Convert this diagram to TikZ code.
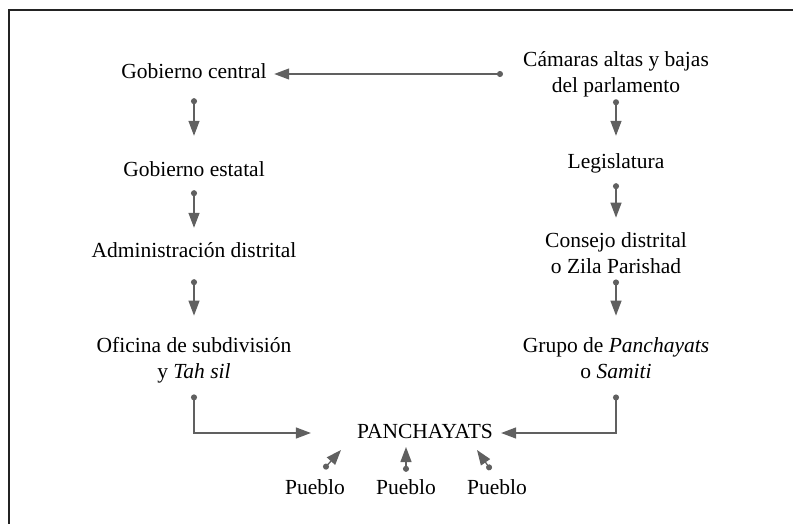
\documentclass[tikz,border=0pt]{standalone}
\usepackage{fontspec}
\setmainfont{Liberation Serif}
\usetikzlibrary{arrows.meta}
\definecolor{linkgray}{RGB}{96,96,96}
\definecolor{framegray}{RGB}{35,35,35}

\begin{document}
\begin{tikzpicture}[x=1pt,y=-1pt,node distance=91pt,
  level/.style={inner sep=0pt,align=center,font=\fontsize{21.5}{26}\selectfont},
  single/.style={level,text height=15pt,text depth=5pt},
  link/.style={color=linkgray,line width=1.3pt,
    {Circle[length=6pt]}-{Triangle[length=15pt,width=11pt]}},
  frame/.style={draw=framegray,line width=1.2pt}]
  \useasboundingbox (0,0) rectangle (793,524);
  \draw[frame] (9,524) |- (793,10);

  % left column
  \node[single] (gc)  at (194,74)    {Gobierno central};
  \node[single] (ge)  at (194,172)   {Gobierno estatal};
  \node[single] (ad)  at (194,252)   {Administración distrital};
  \node[level]  (ot)  at (194,360)   {Oficina de subdivisión\\y \textit{Tah sil}};

  % right column
  \node[level]  (cam) at (616,74)    {Cámaras altas y bajas\\del parlamento};
  \node[single] (leg) at (616,164)   {Legislatura};
  \node[level]  (cd)  at (616,252.7) {Consejo distrital\\o Zila Parishad};
  \node[level]  (gp)  at (616,357.7) {Grupo de \textit{Panchayats}\\o \textit{Samiti}};

  % bottom
  \node[single] (pan) at (425,433)   {PANCHAYATS};
  \node[single] (pb2) at (406,489)   {Pueblo};
  \node[single] (pb1) [left of=pb2]  {Pueblo};
  \node[single] (pb3) [right of=pb2] {Pueblo};
  \coordinate (tipa) at (341,450);
  \coordinate (tipb) at (406,447);
  \coordinate (tipc) at (477,450);

  \path[link]
  (gc) edge [shorten <=14pt, shorten >=26pt] (ge)
  (ge) edge [shorten <=8pt, shorten >=14pt] (ad)
  (ad) edge [shorten <=17pt, shorten >=21.3pt] (ot)

  (cam) edge [shorten <=2.3pt, shorten >=18pt] (leg)
  (leg) edge [shorten <=9pt, shorten >=14.3pt] (cd)
  (cd)  edge [shorten <=6pt, shorten >=21.3pt] (gp)
  ;

  \draw[link, shorten <=13.4pt] (pb1.north) -- (tipa);
  \draw[link, shorten <=7pt]    (pb2.north) -- (tipb);
  \draw[link, shorten <=10.9pt] (pb3.north) -- (tipc);

  \draw[link, shorten <=20pt, shorten >=7.5pt] (cam.west) -- (cam.west -| gc.east);
  \draw[link, shorten <=11.3pt, shorten >=46pt] (ot.south) |- (pan.west);
  \draw[link, shorten <=16pt, shorten >=8pt] (gp.south) |- (pan.east);
\end{tikzpicture}
\end{document}
